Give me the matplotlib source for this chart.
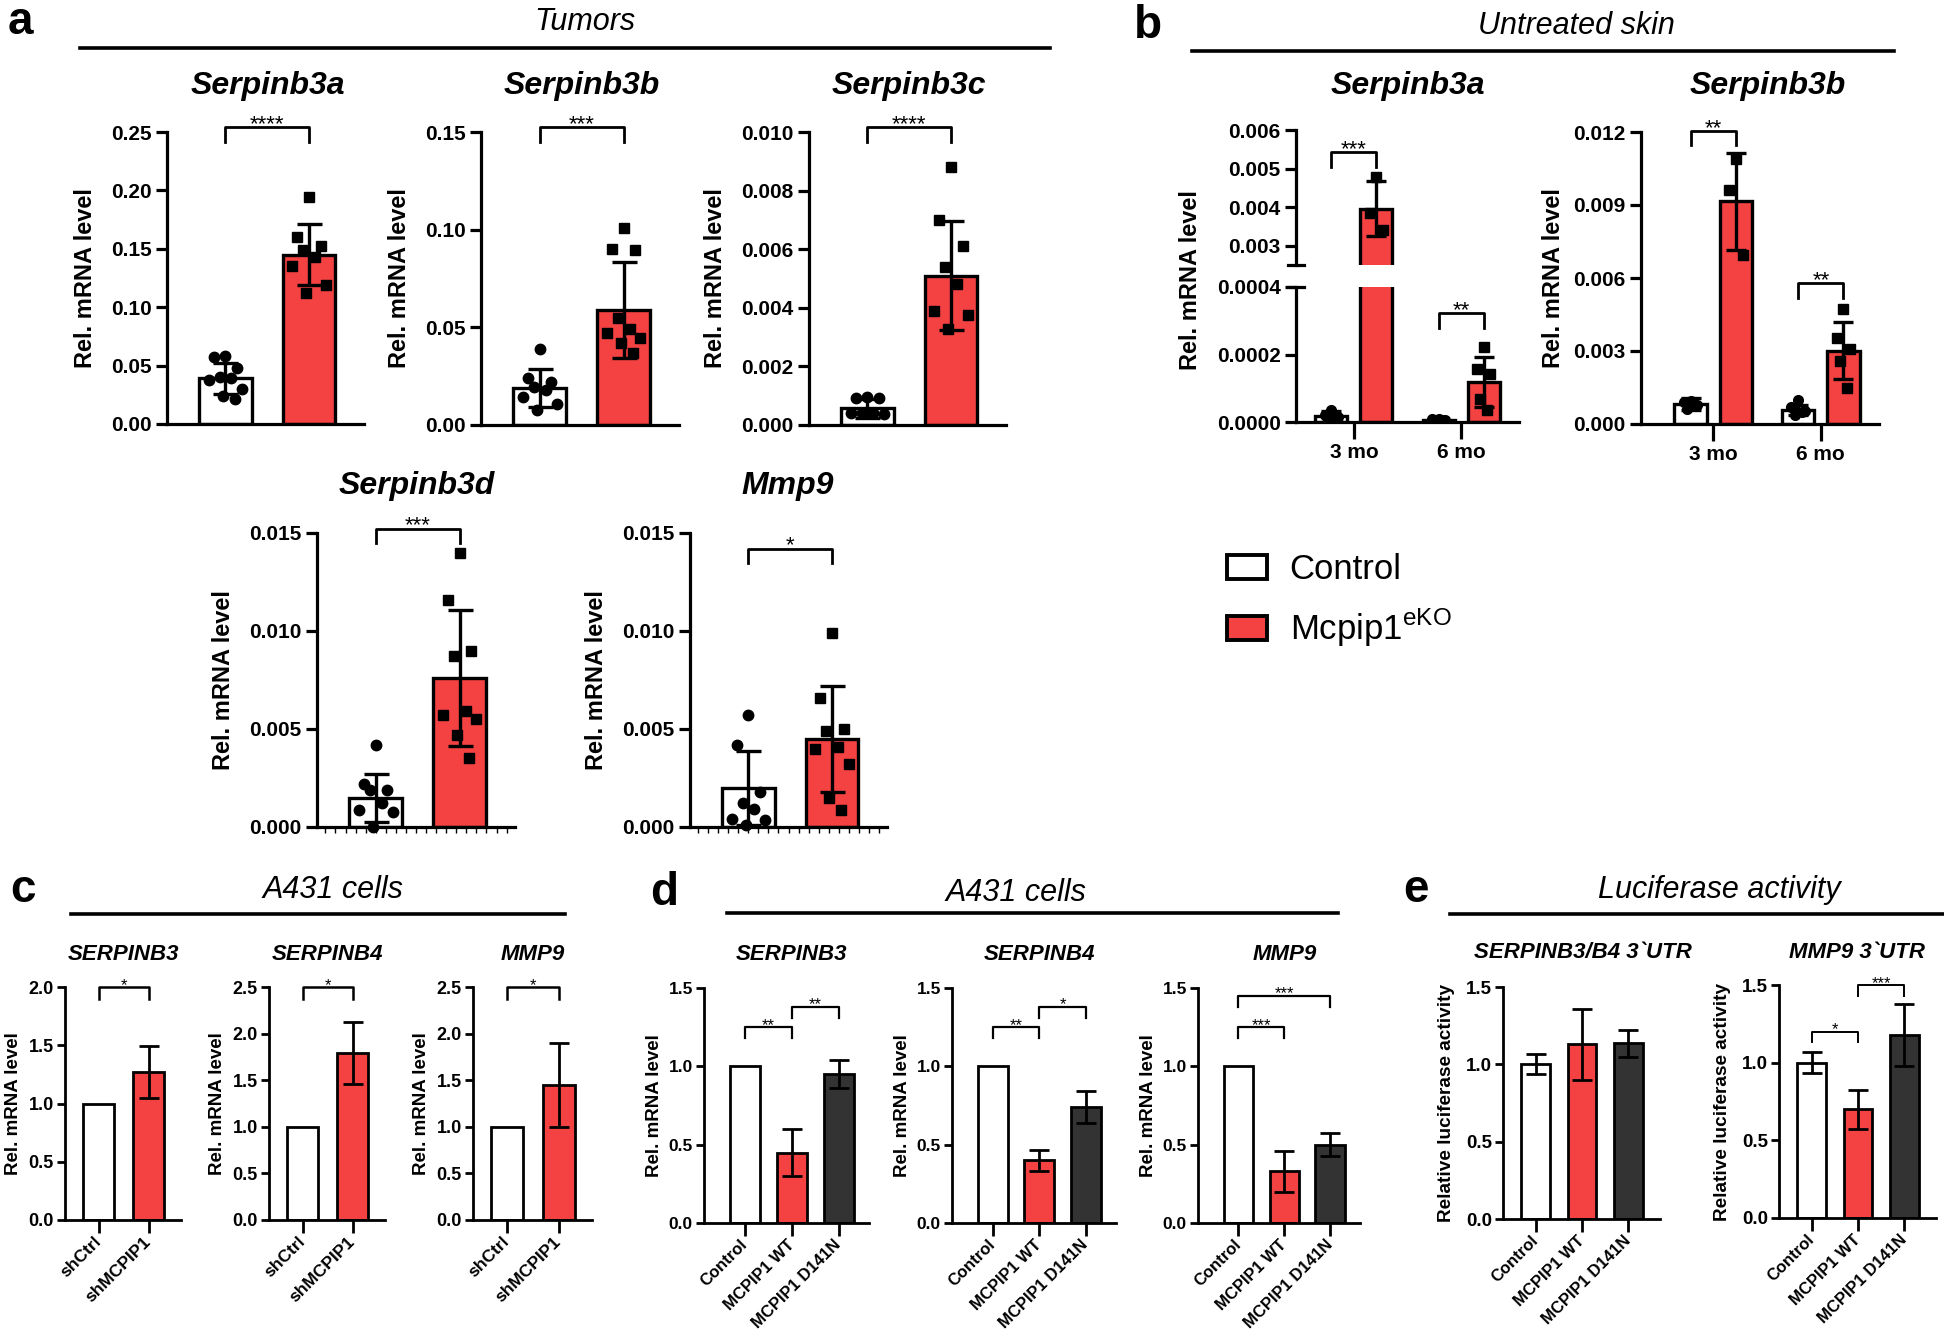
import numpy as np
import matplotlib.pyplot as plt
from matplotlib.lines import Line2D
from matplotlib.patches import Patch
from matplotlib.ticker import MultipleLocator
from matplotlib.transforms import ScaledTranslation, blended_transform_factory

plt.rcParams['font.family'] = ['Liberation Sans', 'DejaVu Sans']
plt.rcParams['mathtext.fontset'] = 'custom'
plt.rcParams['mathtext.rm'] = 'Liberation Sans'

RED = '#f44141'
DARK = '#333333'

# ---- panel a: tumors (mean, SD, single points) ----
a_genes = ['Serpinb3a', 'Serpinb3b', 'Serpinb3c', 'Serpinb3d', 'Mmp9']
a_ctrl_mean = [0.039, 0.019, 0.00057, 0.00148, 0.0020]
a_ctrl_sd = [0.0135, 0.0096, 0.00033, 0.0012, 0.0019]
a_ko_mean = [0.145, 0.059, 0.0051, 0.0076, 0.0045]
a_ko_sd = [0.026, 0.0245, 0.00185, 0.00345, 0.0027]
a_ctrl_pts = [
    [0.058, 0.057, 0.048, 0.040, 0.039, 0.038, 0.030, 0.024, 0.021],
    [0.0387, 0.024, 0.022, 0.0196, 0.018, 0.0145, 0.0106, 0.0077],
    [0.00094, 0.00093, 0.00092, 0.00040, 0.00040, 0.00041, 0.00039],
    [0.0042, 0.0022, 0.0019, 0.00188, 0.00123, 0.00085, 0.00077, 0.0],
    [0.0057, 0.0042, 0.0018, 0.0012, 0.0009, 0.0004, 0.00034, 0.0001],
]
a_ko_pts = [
    [0.194, 0.160, 0.152, 0.149, 0.143, 0.135, 0.119, 0.112],
    [0.101, 0.090, 0.0898, 0.055, 0.049, 0.047, 0.0447, 0.042, 0.0367],
    [0.0088, 0.0070, 0.0061, 0.0054, 0.0048, 0.0039, 0.00375, 0.00326],
    [0.0140, 0.0116, 0.0090, 0.0087, 0.0059, 0.0057, 0.0055, 0.0047, 0.0035],
    [0.0099, 0.0066, 0.0050, 0.0049, 0.0041, 0.0040, 0.0032, 0.0015, 0.00085],
]
a_stars = ['****', '***', '****', '***', '*']
a_ymax = [0.25, 0.15, 0.010, 0.015, 0.015]
a_ystep = [0.05, 0.05, 0.002, 0.005, 0.005]
a_yfmt = ['%.2f', '%.2f', '%.3f', '%.3f', '%.3f']

# ---- panel b: untreated skin, 3 mo / 6 mo ----
b_groups = ['3 mo', '6 mo']
b_genes = ['Serpinb3a', 'Serpinb3b']
b_ctrl_mean = [[0.000017, 0.000007], [0.00082, 0.00058]]
b_ctrl_sd = [[0.000016, 0.000004], [0.00026, 0.00020]]
b_ko_mean = [[0.00396, 0.000119], [0.00915, 0.00302]]
b_ko_sd = [[0.00071, 0.000075], [0.0020, 0.00118]]
b_ctrl_pts = [
    [[0.000037, 0.000020, 0.000015, 0.000010], [0.000010, 0.000008, 0.000006, 0.000005, 0.000005]],
    [[0.00095, 0.00090, 0.00080, 0.00060], [0.00099, 0.00070, 0.00055, 0.00037, 0.00050]],
]
b_ko_pts = [
    [[0.00477, 0.00385, 0.00342], [0.000222, 0.000158, 0.000143, 0.000069, 0.000035]],
    [[0.0109, 0.0096, 0.00695], [0.00472, 0.00352, 0.00307, 0.0026, 0.00147]],
]
b_stars = [['***', '**'], ['**', '**']]

# ---- panel c: A431 shMCPIP1 ----
c_genes = ['SERPINB3', 'SERPINB4', 'MMP9']
c_labels = ['shCtrl', 'shMCPIP1']
c_mean = [[1.0, 1.27], [1.0, 1.79], [1.0, 1.45]]
c_sd = [[0, 0.22], [0, 0.33], [0, 0.45]]
c_ymax = [2.0, 2.5, 2.5]

# ---- panel d: A431 overexpression ----
d_genes = ['SERPINB3', 'SERPINB4', 'MMP9']
d_labels = ['Control', 'MCPIP1 WT', 'MCPIP1 D141N']
d_mean = [[1.0, 0.45, 0.95], [1.0, 0.40, 0.74], [1.0, 0.33, 0.50]]
d_sd = [[0, 0.15, 0.09], [0, 0.065, 0.10], [0, 0.13, 0.075]]
d_sig = [[(0, 1, 1.25, '**'), (1, 2, 1.38, '**')],
         [(0, 1, 1.25, '**'), (1, 2, 1.38, '*')],
         [(0, 1, 1.25, '***'), (0, 2, 1.45, '***')]]

# ---- panel e: luciferase ----
e_titles = ['SERPINB3/B4 3`UTR', 'MMP9 3`UTR']
e_mean = [[1.0, 1.13, 1.135], [1.0, 0.70, 1.18]]
e_sd = [[0.065, 0.23, 0.09], [0.067, 0.125, 0.20]]
e_sig = [[], [(0, 1, 1.20, '*'), (1, 2, 1.50, '***')]]

W, H = 1944, 1338
fig = plt.figure(figsize=(W / 100, H / 100), dpi=100)


def add_ax(l, t, r, b):
    return fig.add_axes([l / W, 1 - b / H, (r - l) / W, (b - t) / H])


def ftext(x, y, s, **kw):
    fig.text(x / W, 1 - y / H, s, **kw)


def header(letter, lx, title, tx, y, x1, x2, ly):
    ftext(lx, y, letter, fontsize=33, fontweight='bold', ha='left', va='center')
    ftext(tx, y, title, fontsize=22, fontstyle='italic', ha='center', va='center')
    fig.add_artist(Line2D([x1 / W, x2 / W], [1 - ly / H] * 2, color='k', lw=2.6))


def clean(ax, lw):
    for s in ['top', 'right']:
        ax.spines[s].set_visible(False)
    for s in ['left', 'bottom']:
        ax.spines[s].set_linewidth(lw)


def bracket(ax, x1, x2, y, leg, text, fs, lw, trans=None):
    trans = trans or ax.transData
    ax.plot([x1, x1, x2, x2], [y - leg, y, y, y - leg], color='k', lw=lw,
            clip_on=False, transform=trans)
    ax.text((x1 + x2) / 2, y, text, ha='center', va='baseline', fontsize=fs,
            transform=trans + ScaledTranslation(0, -2 / 72, fig.dpi_scale_trans))


def jitter(n, scale=0.2):
    base = np.array([0.0, -0.7, 0.7, -0.35, 0.35, -1.0, 1.0, -0.15, 0.55, -0.55])
    return base[:n] * scale


def rot_labels(ax, labels, fs, style='normal'):
    ax.set_xticks(np.arange(len(labels)), labels, fontsize=fs, fontweight='bold',
                  fontstyle=style, rotation=45, ha='right', va='center',
                  rotation_mode='anchor')


# ================= panel a =================
header('a', 8, 'Tumors', 585, 22, 80, 1050, 48)
a_boxes = [(167, 132, 364, 424), (481, 132, 679, 425), (809, 132, 1006, 425),
           (317, 533, 515, 827), (690, 533, 887, 827)]
a_title_xy = [(268, 86), (582, 86), (909, 86), (417, 486), (788, 486)]
a_br = [(1.017, 0.05), (1.017, 0.05), (1.017, 0.05), (1.014, 0.048), (0.946, 0.048)]
for i, g in enumerate(a_genes):
    ax = add_ax(*a_boxes[i])
    clean(ax, 2.3)
    ax.bar([0, 1], [a_ctrl_mean[i], a_ko_mean[i]], width=0.63, color=['white', RED],
           edgecolor='k', linewidth=2.4, zorder=2)
    ax.errorbar([0, 1], [a_ctrl_mean[i], a_ko_mean[i]], yerr=[a_ctrl_sd[i], a_ko_sd[i]],
                fmt='none', ecolor='k', elinewidth=2.4, capsize=9, capthick=2.4, zorder=3)
    cp, kp = a_ctrl_pts[i], a_ko_pts[i]
    ax.plot(0 + jitter(len(cp)), cp, 'o', color='k', ms=7.5, clip_on=False, zorder=4)
    ax.plot(1 + jitter(len(kp)), kp, 's', color='k', ms=6.5, clip_on=False, zorder=4)
    ax.set_xlim(-0.7, 1.66)
    ax.set_ylim(0, a_ymax[i])
    ticks = np.arange(0, a_ymax[i] + a_ystep[i] / 2, a_ystep[i])
    ax.set_yticks(ticks, [a_yfmt[i] % t for t in ticks], fontsize=15, fontweight='bold')
    ax.tick_params(axis='y', width=2.3, length=8, pad=3)
    ax.set_xticks([])
    if i >= 3:
        ax.xaxis.set_minor_locator(MultipleLocator(0.12))
        ax.tick_params(axis='x', which='minor', length=4, width=1)
    ax.set_ylabel('Rel. mRNA level', fontsize=17, fontweight='bold', labelpad=10)
    yb, leg = a_br[i]
    bracket(ax, 0, 1, yb, leg, a_stars[i], 16, 2.0,
            trans=blended_transform_factory(ax.transData, ax.transAxes))
    ftext(*a_title_xy[i], g, fontsize=23, fontweight='bold', fontstyle='italic',
          ha='center', va='center')

# ================= panel b =================
header('b', 1134, 'Untreated skin', 1576, 26, 1192, 1894, 51)
off, bw = 0.21, 0.30
xg = np.arange(len(b_groups))


def draw_b(ax, k):
    ax.bar(xg - off, b_ctrl_mean[k], width=bw, color='white', edgecolor='k', linewidth=2.4, zorder=2)
    ax.bar(xg + off, b_ko_mean[k], width=bw, color=RED, edgecolor='k', linewidth=2.4, zorder=2)
    ax.errorbar(xg - off, b_ctrl_mean[k], yerr=b_ctrl_sd[k], fmt='none', ecolor='k',
                elinewidth=2.4, capsize=7, capthick=2.4, zorder=3)
    ax.errorbar(xg + off, b_ko_mean[k], yerr=b_ko_sd[k], fmt='none', ecolor='k',
                elinewidth=2.4, capsize=7, capthick=2.4, zorder=3)
    for j in range(len(b_groups)):
        cp, kp = b_ctrl_pts[k][j], b_ko_pts[k][j]
        ax.plot(xg[j] - off + jitter(len(cp), 0.09), cp, 'o', color='k', ms=7, zorder=4)
        ax.plot(xg[j] + off + jitter(len(kp), 0.09), kp, 's', color='k', ms=6.5, zorder=4)


# Serpinb3a with broken axis
up = add_ax(1296, 130, 1519, 265)
lo = add_ax(1296, 287, 1519, 422)
for ax in (up, lo):
    draw_b(ax, 0)
    clean(ax, 2.3)
    ax.set_xlim(-0.54, 1.54)
up.spines['bottom'].set_visible(False)
up.set_xticks([])
up.set_ylim(0.0025, 0.006)
up.set_yticks([0.003, 0.004, 0.005, 0.006], ['0.003', '0.004', '0.005', '0.006'],
              fontsize=15, fontweight='bold')
lo.set_ylim(0, 0.0004)
lo.set_yticks([0, 0.0002, 0.0004], ['0.0000', '0.0002', '0.0004'], fontsize=15, fontweight='bold')
lo.set_xticks(xg, b_groups, fontsize=15, fontweight='bold')
for ax in (up, lo):
    ax.tick_params(axis='y', width=2.3, length=8, pad=3)
# break caps crossing the spine
up.plot([-0.036, 0.036], [0, 0], color='k', lw=2.3, clip_on=False, transform=up.transAxes)
lo.plot([-0.036, 0.036], [1, 1], color='k', lw=2.3, clip_on=False, transform=lo.transAxes)
lo.tick_params(axis='x', width=2.3, length=12, pad=3)
lo.set_ylabel('Rel. mRNA level', fontsize=17, fontweight='bold')
lo.yaxis.set_label_coords(-0.42, 1.05)
bracket(up, -off, off, 0.00543, 0.00039, b_stars[0][0], 16, 2.0)
bracket(lo, 1 - off, 1 + off, 0.000323, 0.000044, b_stars[0][1], 16, 2.0)
ftext(1408, 86, b_genes[0], fontsize=23, fontweight='bold', fontstyle='italic', ha='center', va='center')

# Serpinb3b
ax = add_ax(1641, 132, 1879, 424)
draw_b(ax, 1)
clean(ax, 2.3)
ax.set_xlim(-0.67, 1.54)
ax.set_ylim(0, 0.012)
ticks = np.arange(0, 0.0121, 0.003)
ax.set_yticks(ticks, ['%.3f' % t for t in ticks], fontsize=15, fontweight='bold')
ax.set_xticks(xg, b_groups, fontsize=15, fontweight='bold')
ax.tick_params(axis='y', width=2.3, length=8, pad=3)
ax.tick_params(axis='x', width=2.3, length=12, pad=3)
ax.set_ylabel('Rel. mRNA level', fontsize=17, fontweight='bold', labelpad=6)
bracket(ax, -off, off, 0.01204, 0.00057, b_stars[1][0], 16, 2.0)
bracket(ax, 1 - off, 1 + off, 0.00579, 0.00061, b_stars[1][1], 16, 2.0)
ftext(1768, 86, b_genes[1], fontsize=23, fontweight='bold', fontstyle='italic', ha='center', va='center')

# legend
fig.legend(handles=[Patch(facecolor='white', edgecolor='k', lw=2.8, label='Control'),
                    Patch(facecolor=RED, edgecolor='k', lw=2.8, label=r'Mcpip1$^{\mathrm{eKO}}$')],
           loc='upper left', bbox_to_anchor=(1227 / W, 1 - 553 / H), frameon=False, fontsize=25,
           handlelength=1.15, handleheight=0.7, handletextpad=0.65, labelspacing=0.6,
           borderaxespad=0, borderpad=0)

# ================= panel c =================
header('c', 10, 'A431 cells', 333, 890, 71, 565, 914)
c_boxes = [(65, 987, 181, 1220), (269, 987, 385, 1220), (473, 987, 592, 1220)]
c_title_x = [123, 327, 533]
for i, g in enumerate(c_genes):
    ax = add_ax(*c_boxes[i])
    clean(ax, 2.0)
    x = np.arange(2)
    ax.bar(x, c_mean[i], width=0.62, color=['white', RED], edgecolor='k', linewidth=2.0, zorder=2)
    ax.errorbar(x[1:], c_mean[i][1:], yerr=c_sd[i][1:], fmt='none', ecolor='k',
                elinewidth=2.0, capsize=7, capthick=2.0, zorder=3)
    ax.set_xlim(-0.67, 1.65)
    ax.set_ylim(0, c_ymax[i])
    ticks = np.arange(0, c_ymax[i] + 0.01, 0.5)
    ax.set_yticks(ticks, ['%.1f' % t for t in ticks], fontsize=13, fontweight='bold')
    rot_labels(ax, c_labels, 12.5)
    ax.tick_params(axis='y', width=2.0, length=6, pad=2)
    ax.tick_params(axis='x', width=2.0, length=9, pad=5)
    ax.set_ylabel('Rel. mRNA level', fontsize=13.5, fontweight='bold', labelpad=5)
    bracket(ax, 0, 1, c_ymax[i], c_ymax[i] * 0.05, '*', 12, 1.8)
    ftext(c_title_x[i], 954, g, fontsize=16, fontweight='bold', fontstyle='italic',
          ha='center', va='center')

# ================= panel d =================
header('d', 650, 'A431 cells', 1016, 893, 727, 1338, 913)
d_boxes = [(704, 988, 869, 1223), (952, 988, 1116, 1223), (1198, 988, 1360, 1223)]
d_title_x = [791, 1039, 1285]
for i, g in enumerate(d_genes):
    ax = add_ax(*d_boxes[i])
    clean(ax, 2.0)
    x = np.arange(3)
    ax.bar(x, d_mean[i], width=0.64, color=['white', RED, DARK], edgecolor='k',
           linewidth=2.0, zorder=2)
    ax.errorbar(x[1:], d_mean[i][1:], yerr=d_sd[i][1:], fmt='none', ecolor='k',
                elinewidth=2.0, capsize=7, capthick=2.0, zorder=3)
    ax.set_xlim(-0.88, 2.65)
    ax.set_ylim(0, 1.5)
    ticks = np.arange(0, 1.51, 0.5)
    ax.set_yticks(ticks, ['%.1f' % t for t in ticks], fontsize=12.5, fontweight='bold')
    rot_labels(ax, d_labels, 12)
    ax.tick_params(axis='y', width=2.0, length=6, pad=2)
    ax.tick_params(axis='x', width=2.0, length=9, pad=5)
    ax.set_ylabel('Rel. mRNA level', fontsize=13.5, fontweight='bold', labelpad=4)
    for x1, x2, yb, s in d_sig[i]:
        bracket(ax, x1, x2, yb, 0.07, s, 12, 1.6)
    ftext(d_title_x[i], 954, g, fontsize=16, fontweight='bold', fontstyle='italic',
          ha='center', va='center')

# ================= panel e =================
header('e', 1403, 'Luciferase activity', 1719, 890, 1450, 1944, 914)
e_boxes = [(1503, 987, 1660, 1219), (1779, 985, 1936, 1218)]
e_title_x = [1583, 1857]
for i, g in enumerate(e_titles):
    ax = add_ax(*e_boxes[i])
    clean(ax, 2.0)
    x = np.arange(3)
    ax.bar(x, e_mean[i], width=0.62, color=['white', RED, DARK], edgecolor='k',
           linewidth=2.0, zorder=2)
    ax.errorbar(x, e_mean[i], yerr=e_sd[i], fmt='none', ecolor='k',
                elinewidth=2.0, capsize=7, capthick=2.0, zorder=3)
    ax.set_xlim(-0.70, 2.68)
    ax.set_ylim(0, 1.5)
    ticks = np.arange(0, 1.51, 0.5)
    ax.set_yticks(ticks, ['%.1f' % t for t in ticks], fontsize=13.5, fontweight='bold')
    rot_labels(ax, d_labels, 12)
    ax.tick_params(axis='y', width=2.0, length=6, pad=2)
    ax.tick_params(axis='x', width=2.0, length=9, pad=5)
    ax.set_ylabel('Relative luciferase activity', fontsize=13.7, fontweight='bold', labelpad=8)
    for x1, x2, yb, s in e_sig[i]:
        bracket(ax, x1, x2, yb, 0.07, s, 12, 1.4)
    ftext(e_title_x[i], 952, g, fontsize=16, fontweight='bold', fontstyle='italic',
          ha='center', va='center')

fig.savefig('out.png', dpi=100)
